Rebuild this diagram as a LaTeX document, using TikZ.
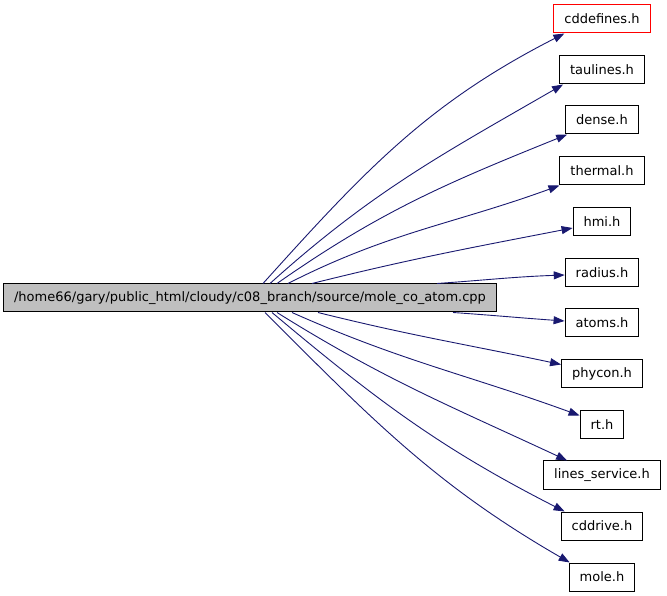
\documentclass[tikz,border=0pt]{standalone}
\usepackage{fontspec}
\setmainfont{DejaVu Sans}
\usetikzlibrary{arrows.meta}
\definecolor{edgeblue}{HTML}{191970}
\definecolor{boxgray}{HTML}{BFBFBF}

\begin{document}
\begin{tikzpicture}[
    x=1pt, y=1pt,
    fnode/.style={
        rectangle, draw=black, fill=white, line width=1pt,
        minimum height=28pt, inner xsep=10.5pt, inner ysep=0pt,
        font=\fontsize{13}{15}\selectfont
    },
    mainnode/.style={fnode, fill=boxgray},
    warnnode/.style={fnode, draw=red},
    iedge/.style={
        draw=edgeblue, line width=0.9pt,
        -{Triangle[length=11pt,width=8pt]}
    },
]
\useasboundingbox (0,0) rectangle (667,595);

% x = 602, dy = 50.7
\node [mainnode] (main) at (250,297) {/home66/gary/public\_html/cloudy/c08\_branch/source/mole\_co\_atom.cpp};
\node [warnnode] (cdd) at (602,576) {cddefines.h};
\node [fnode] (tau) at (602,525) {taulines.h};
\node [fnode] (dense) at (602,475) {dense.h};
\node [fnode] (thermal) at (602,424) {thermal.h};
\node [fnode] (hmi) at (602,373) {hmi.h};
\node [fnode] (radius) at (602,322) {radius.h};
\node [fnode] (atoms) at (602,272) {atoms.h};
\node [fnode] (phycon) at (602,221) {phycon.h};
\node [fnode] (rt) at (602,170) {rt.h};
\node [fnode] (lines) at (602,120) {lines\_service.h};
\node [fnode] (cddrive) at (602,69) {cddrive.h};
\node [fnode] (mole) at (602,18) {mole.h};

\draw[iedge] ([xshift=13pt]main.north) to[out=48,in=207] ([xshift=11pt]cdd.south west);
\draw[iedge] ([xshift=20pt]main.north) to[out=42,in=210] ([xshift=4pt]tau.south west);
\draw[iedge] ([xshift=27pt]main.north) to[out=35,in=202] ([xshift=2pt]dense.south west);
\draw[iedge] ([xshift=38pt]main.north) to[out=27,in=200] (thermal.south west);
\draw[iedge] ([xshift=62pt]main.north) to[out=14,in=191] ([yshift=-6pt]hmi.west);
\draw[iedge] ([xshift=187pt]main.north) to[out=4,in=182] ([yshift=-2pt]radius.west);
\draw[iedge] ([xshift=203pt]main.south) to[out=-4,in=176] ([yshift=2pt]atoms.west);
\draw[iedge] ([xshift=68pt]main.south) to[out=-14,in=168] ([yshift=-5pt]phycon.north west);
\draw[iedge] ([xshift=42pt]main.south) to[out=-24,in=160] ([yshift=-5pt]rt.north west);
\draw[iedge] ([xshift=27pt]main.south) to[out=-32,in=155] ([xshift=24pt]lines.north west);
\draw[iedge] ([xshift=22pt]main.south) to[out=-40,in=153] ([xshift=4pt]cddrive.north west);
\draw[iedge] ([xshift=15pt]main.south) to[out=-45,in=150] ([xshift=1pt]mole.north west);

\end{tikzpicture}
\end{document}
